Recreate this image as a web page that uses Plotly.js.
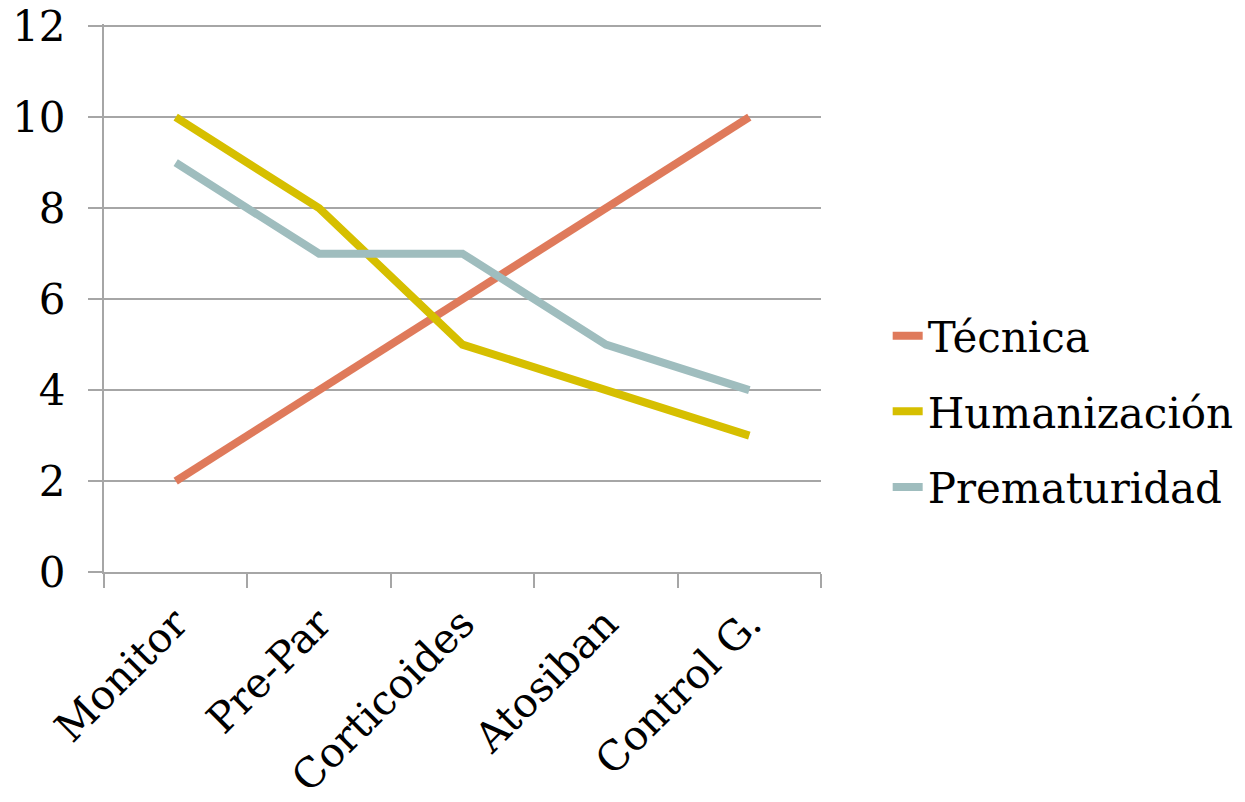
<!DOCTYPE html>
<html>
<head>
<meta charset="utf-8">
<script src="https://cdn.plot.ly/plotly-3.0.1.min.js"></script>
<style>html,body{margin:0;padding:0;background:#fff;}#chart{width:1245px;height:802px;}</style>
</head>
<body>
<div id="chart"></div>
<script>
const categories = ["Monitor", "Pre-Par", "Corticoides", "Atosiban", "Control G."];
const tecnica = [2, 4, 6, 8, 10];
const humanizacion = [10, 8, 5, 4, 3];
const prematuridad = [9, 7, 7, 5, 4];
const seriesNames = ["Técnica", "Humanización", "Prematuridad"];
const yTicks = [0, 2, 4, 6, 8, 10, 12];

const colors = ["#DF7A5B", "#D6BF00", "#9FBDBE"];
const values = [tecnica, humanizacion, prematuridad];
const fontFam = "DejaVu Serif, serif";

const traces = values.map((v, i) => ({
  type: "scatter", mode: "lines", x: categories, y: v, name: seriesNames[i],
  legendgroup: "g" + i,
  line: {color: colors[i], width: 8}
}));

const layout = {
  width: 1245, height: 802,
  margin: {l: 104, r: 424, t: 24, b: 230, autoexpand: false},
  paper_bgcolor: "#fff", plot_bgcolor: "#fff",
  font: {family: fontFam, size: 42, color: "#000"},
  showlegend: true,
  legend: {x: 1.093, y: 0.293, xanchor: "left", yanchor: "middle", tracegroupgap: 18,
           font: {family: fontFam, size: 42, color: "#000"}, bgcolor: "rgba(0,0,0,0)"},
  xaxis: {
    type: "category", range: [-0.5, 4.5], tickangle: -45,
    showgrid: false, showline: true, linecolor: "#A6A6A6", linewidth: 2,
    ticks: "outside", tickson: "boundaries", ticklen: 14, tickcolor: "#A6A6A6", tickwidth: 2,
    ticklabelstandoff: 9, ticklabeloverflow: "allow", automargin: false,
    tickfont: {family: fontFam, size: 41, color: "#000"}, zeroline: false
  },
  yaxis: {
    range: [0, 12.05], tickvals: yTicks, ticktext: yTicks.map(String),
    showgrid: true, gridcolor: "#A6A6A6", gridwidth: 2,
    showline: true, linecolor: "#A6A6A6", linewidth: 2,
    ticks: "outside", ticklen: 14, tickcolor: "#A6A6A6", tickwidth: 2,
    ticklabelstandoff: 14, ticklabeloverflow: "allow", automargin: false,
    tickfont: {family: fontFam, size: 42, color: "#000"}, zeroline: false
  }
};

Plotly.newPlot("chart", traces, layout, {displayModeBar: false, staticPlot: true});
</script>
</body>
</html>
